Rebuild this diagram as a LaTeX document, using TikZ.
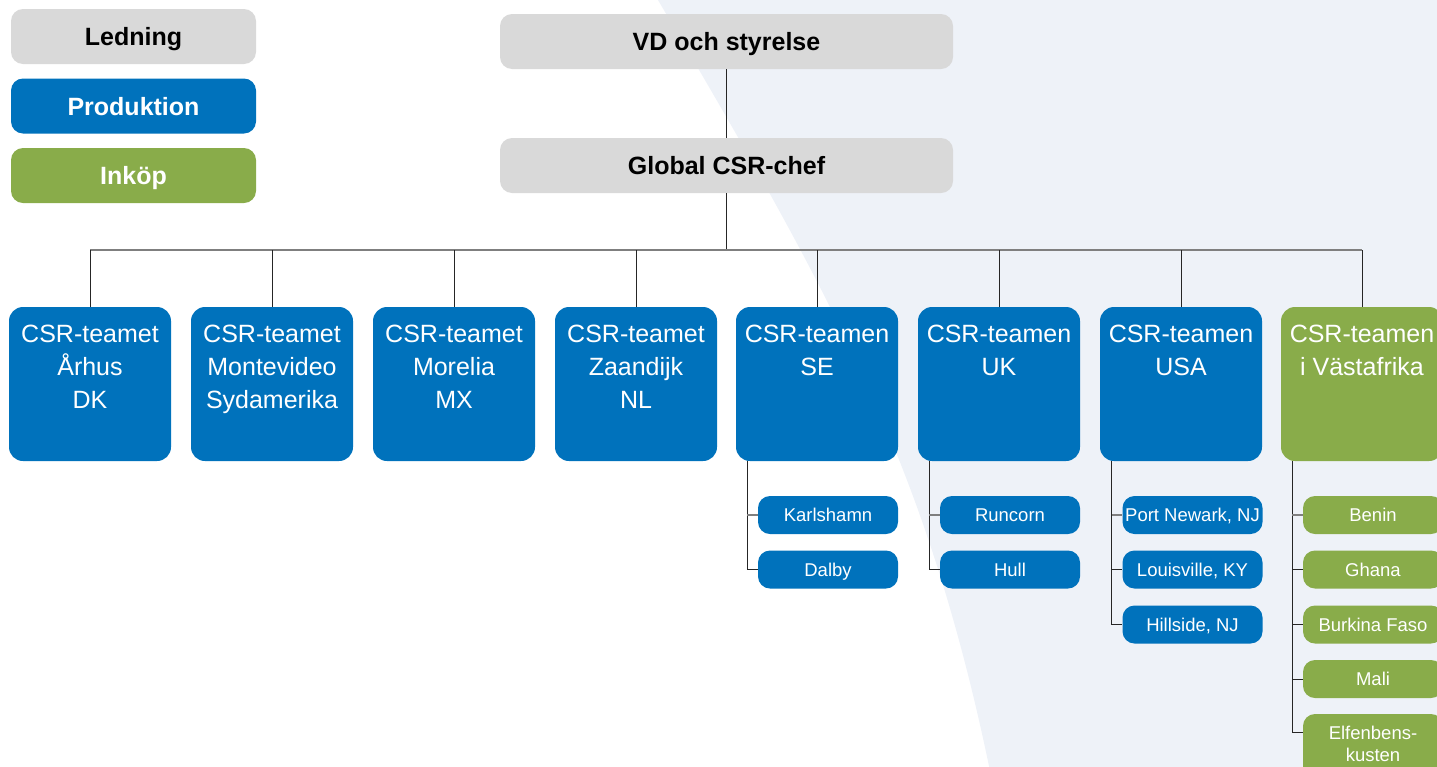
\documentclass[tikz,border=0pt]{standalone}
\usepackage{fontspec}
\setmainfont{Liberation Sans}
\usetikzlibrary{calc}
\definecolor{prodblue}{HTML}{0072BC}
\definecolor{inkgreen}{HTML}{89AC4A}
\definecolor{ledgray}{HTML}{D9D9D9}
\definecolor{bgtint}{HTML}{EEF2F8}
\definecolor{busgray}{HTML}{7F7F7F}
\begin{document}
\begin{tikzpicture}[x=1pt,y=-1pt,
  box/.style={rectangle, rounded corners=12pt, inner sep=0pt, align=center, text height=18pt, text depth=0pt},
  legendbox/.style={box, minimum width=245pt, minimum height=55pt, font=\fontsize{25}{30}\selectfont\bfseries},
  topbox/.style={box, fill=ledgray, minimum width=453pt, minimum height=55pt, font=\fontsize{25}{30}\selectfont\bfseries},
  teambox/.style={rectangle, rounded corners=14pt, inner sep=0pt, minimum width=162pt, minimum height=154pt},
  teamtext/.style={anchor=north, inner sep=0pt, align=center, text=white, font=\fontsize{25}{33}\selectfont},
  sitebox/.style={rectangle, rounded corners=12pt, inner sep=0pt, align=center, minimum width=140pt, minimum height=38pt, text=white, text height=13.3pt, text depth=0pt, font=\fontsize{18.5}{21}\selectfont},
  sitetext/.style={anchor=north, inner sep=0pt, align=center, text=white, font=\fontsize{18.5}{22}\selectfont},
  bus/.style={draw=busgray, line width=1.5pt},
  drop/.style={draw=black!85, line width=1pt},
  firstdrop/.style={draw=busgray, line width=1.5pt},
]
\clip (0,0) rectangle (1437,766);
% background tint
\fill[bgtint] (655,-5) .. controls (835,300) and (927,466) .. (990,771) -- (1445,771) -- (1445,-5) -- cycle;

% legend
\node[legendbox, fill=ledgray, text=black] (lg1) at (133.5,36.5) {Ledning};
\node[legendbox, fill=prodblue, text=white] (lg2) at (133.5,106) {Produktion};
\node[legendbox, fill=inkgreen, text=white] (lg3) at (133.5,175.5) {Inköp};

% top
\node[topbox] (vd) at (726.5,41.5) {VD och styrelse};
\node[topbox] (gc) at (726.5,165.5) {Global CSR-chef};

% teams
\node[teambox, fill=prodblue, label={[teamtext, yshift=-18pt]north:{CSR-teamet\\Århus\\DK}}] (t1) at (90,384) {};
\node[teambox, fill=prodblue, label={[teamtext, yshift=-18pt]north:{CSR-teamet\\Montevideo\\Sydamerika}}] (t2) at (272,384) {};
\node[teambox, fill=prodblue, label={[teamtext, yshift=-18pt]north:{CSR-teamet\\Morelia\\MX}}] (t3) at (454,384) {};
\node[teambox, fill=prodblue, label={[teamtext, yshift=-18pt]north:{CSR-teamet\\Zaandijk\\NL}}] (t4) at (636,384) {};
\node[teambox, fill=prodblue, label={[teamtext, yshift=-18pt]north:{CSR-teamen\\SE}}] (t5) at (817,384) {};
\node[teambox, fill=prodblue, label={[teamtext, yshift=-18pt]north:{CSR-teamen\\UK}}] (t6) at (999,384) {};
\node[teambox, fill=prodblue, label={[teamtext, yshift=-18pt]north:{CSR-teamen\\USA}}] (t7) at (1181,384) {};
\node[teambox, fill=inkgreen, label={[teamtext, yshift=-18pt]north:{CSR-teamen\\i Västafrika}}] (t8) at (1362,384) {};

% sites
\node[sitebox, fill=prodblue] (kar) at (828,515) {Karlshamn};
\node[sitebox, fill=prodblue] (dal) at (828,569.5) {Dalby};
\node[sitebox, fill=prodblue] (run) at (1010,515) {Runcorn};
\node[sitebox, fill=prodblue] (hul) at (1010,569.5) {Hull};
\node[sitebox, fill=prodblue] (pnw) at (1192.5,515) {Port Newark, NJ};
\node[sitebox, fill=prodblue] (lou) at (1192.5,569.5) {Louisville, KY};
\node[sitebox, fill=prodblue] (hil) at (1192.5,624.5) {Hillside, NJ};
\node[sitebox, fill=inkgreen] (ben) at (1373,515) {Benin};
\node[sitebox, fill=inkgreen] (gha) at (1373,569.5) {Ghana};
\node[sitebox, fill=inkgreen] (bur) at (1373,624.5) {Burkina Faso};
\node[sitebox, fill=inkgreen] (mal) at (1373,679) {Mali};
\node[sitebox, fill=inkgreen, minimum height=66pt, label={[sitetext, yshift=-12pt]north:{Elfenbens-\\kusten}}] (elf) at (1373,747) {};

% connectors
\coordinate (busy) at (726.5,250);
\draw[drop] (vd) -- (gc);
\draw[drop] (gc) -- (gc |- busy);
\draw[bus] (t1.north |- busy) -- (t8.north |- busy);
\foreach \i in {1,...,8} { \draw[drop] (t\i.north |- busy) -- (t\i.north); }

\coordinate (cse) at ($(t5.south west)+(11.5,0)$);
\coordinate (cuk) at ($(t6.south west)+(11.5,0)$);
\coordinate (cus) at ($(t7.south west)+(12,0)$);
\coordinate (caf) at ($(t8.south west)+(11.5,0)$);

\draw[drop] (cse) |- (dal.west);
\draw[firstdrop] (cse |- kar.west) -- (kar.west);

\draw[drop] (cuk) |- (hul.west);
\draw[firstdrop] (cuk |- run.west) -- (run.west);

\draw[drop] (cus) |- (hil.west);
\draw[drop] (cus |- lou.west) -- (lou.west);
\draw[firstdrop] (cus |- pnw.west) -- (pnw.west);

\draw[drop] (caf) |- ([yshift=-19pt]elf.north west);
\draw[drop] (caf |- gha.west) -- (gha.west);
\draw[drop] (caf |- bur.west) -- (bur.west);
\draw[drop] (caf |- mal.west) -- (mal.west);
\draw[firstdrop] (caf |- ben.west) -- (ben.west);
\end{tikzpicture}
\end{document}
